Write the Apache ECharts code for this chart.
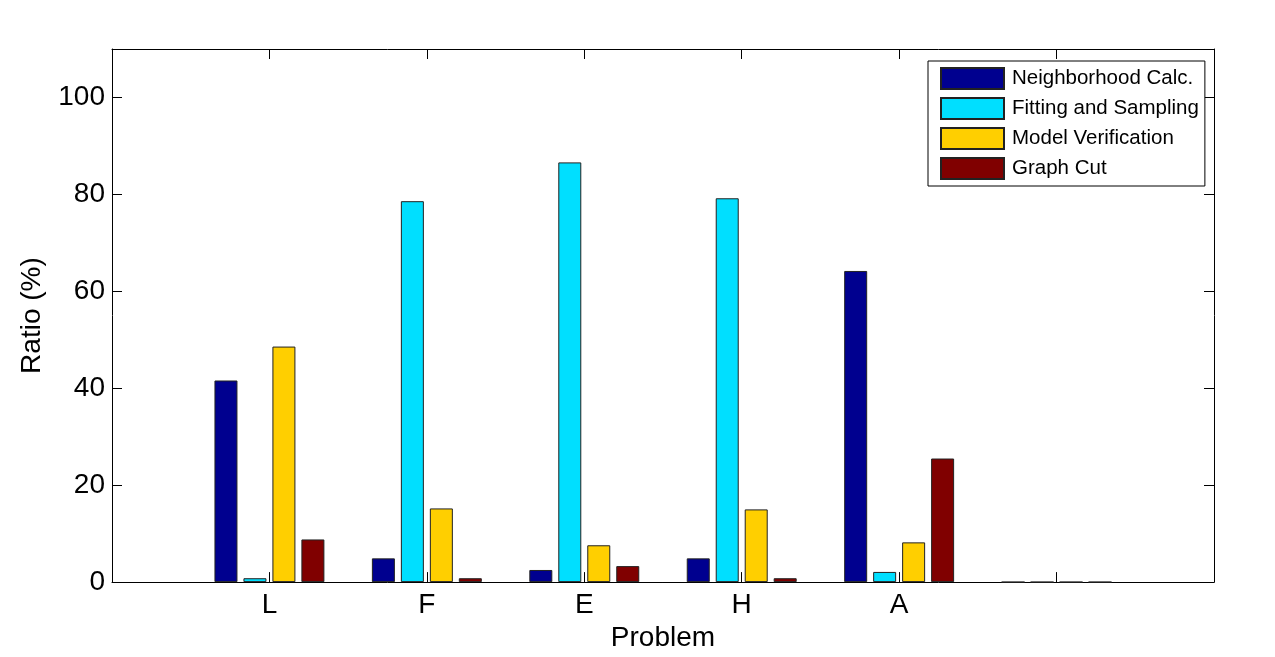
<!DOCTYPE html>
<html>
<head>
<meta charset="utf-8">
<script src="https://cdn.jsdelivr.net/npm/echarts@6/dist/echarts.min.js"></script>
<style>
  html, body { margin: 0; padding: 0; background: #fff; }
  #chart { width: 1275px; height: 657px; }
</style>
</head>
<body>
<div id="chart"></div>
<script>
// problems (x positions 1..6, the 6th has no label and zero bars)
var categories = ['L', 'F', 'E', 'H', 'A', ''];
var seriesNames = ['Neighborhood Calc.', 'Fitting and Sampling', 'Model Verification', 'Graph Cut'];
var neighborhood = [41.6, 4.9, 2.5, 4.9, 64.2, 0];
var fitting      = [0.8, 78.6, 86.6, 79.2, 2.1, 0];
var verification = [48.6, 15.2, 7.6, 15.0, 8.2, 0];
var graphCut     = [8.8, 0.8, 3.3, 0.8, 25.5, 0];
var yTicks = [0, 20, 40, 60, 80, 100];

var colors = ['#00008f', '#00dfff', '#ffcf00', '#800000'];
var fontFam = '"Liberation Sans", Arial, Helvetica, sans-serif';

var myChart = echarts.init(document.getElementById('chart'));

function toPairs(vals) {
    var res = [];
    for (var i = 0; i < vals.length; i++) {
        res.push([i + 1, vals[i]]);
    }
    return res;
}

var allVals = [neighborhood, fitting, verification, graphCut];
var series = [];
for (var s = 0; s < allVals.length; s++) {
    series.push({
        name: seriesNames[s],
        type: 'bar',
        xAxisIndex: 0,
        yAxisIndex: 0,
        data: toPairs(allVals[s]),
        barWidth: 23,
        barGap: '26%',
        itemStyle: {
            color: colors[s],
            borderColor: '#222',
            borderWidth: 1
        },
        z: 1
    });
}

var tickStyle = { show: true, inside: true, length: 10, lineStyle: { color: '#000', width: 1 } };
var lineStyle = { show: true, onZero: false, lineStyle: { color: '#000', width: 1 } };

option = {
    animation: false,
    backgroundColor: '#fff',
    grid: { left: 112, right: 61, top: 49, bottom: 74 },
    legend: {
        orient: 'vertical',
        left: 928,
        top: 61,
        icon: 'rect',
        itemWidth: 63,
        itemHeight: 21,
        itemGap: 7,
        padding: [6, 6, 6, 12],
        borderColor: '#000',
        borderWidth: 1,
        backgroundColor: '#fff',
        textStyle: { fontSize: 20.5, fontFamily: fontFam, color: '#000', padding: [0, 0, 0, 3] },
        data: seriesNames
    },
    xAxis: [{
        type: 'value',
        min: 0,
        max: 7,
        interval: 1,
        position: 'bottom',
        name: 'Problem',
        nameLocation: 'middle',
        nameGap: 40,
        nameTextStyle: { fontSize: 28, fontFamily: fontFam, color: '#000' },
        axisLine: lineStyle,
        axisTick: tickStyle,
        splitLine: { show: false },
        axisLabel: {
            fontSize: 28, fontFamily: fontFam, color: '#000', margin: 9,
            formatter: function (v) {
                return (v >= 1 && v <= categories.length) ? categories[v - 1] : '';
            }
        }
    }, {
        type: 'value',
        min: 0,
        max: 7,
        interval: 1,
        position: 'top',
        axisLine: lineStyle,
        axisTick: tickStyle,
        splitLine: { show: false },
        axisLabel: { show: false }
    }],
    yAxis: [{
        type: 'value',
        min: 0,
        max: 110,
        interval: 20,
        position: 'left',
        name: 'Ratio (%)',
        nameLocation: 'middle',
        nameRotate: 90,
        nameGap: 66,
        nameTextStyle: { fontSize: 28, fontFamily: fontFam, color: '#000' },
        axisLine: lineStyle,
        axisTick: tickStyle,
        splitLine: { show: false },
        axisLabel: {
            fontSize: 28, fontFamily: fontFam, color: '#000', margin: 7,
            formatter: function (v) { return yTicks.indexOf(v) >= 0 ? String(v) : ''; }
        }
    }, {
        type: 'value',
        min: 0,
        max: 110,
        interval: 20,
        position: 'right',
        axisLine: lineStyle,
        axisTick: tickStyle,
        splitLine: { show: false },
        axisLabel: { show: false }
    }],
    series: series
};

myChart.setOption(option);
window.onresize = myChart.resize;
</script>
</body>
</html>
